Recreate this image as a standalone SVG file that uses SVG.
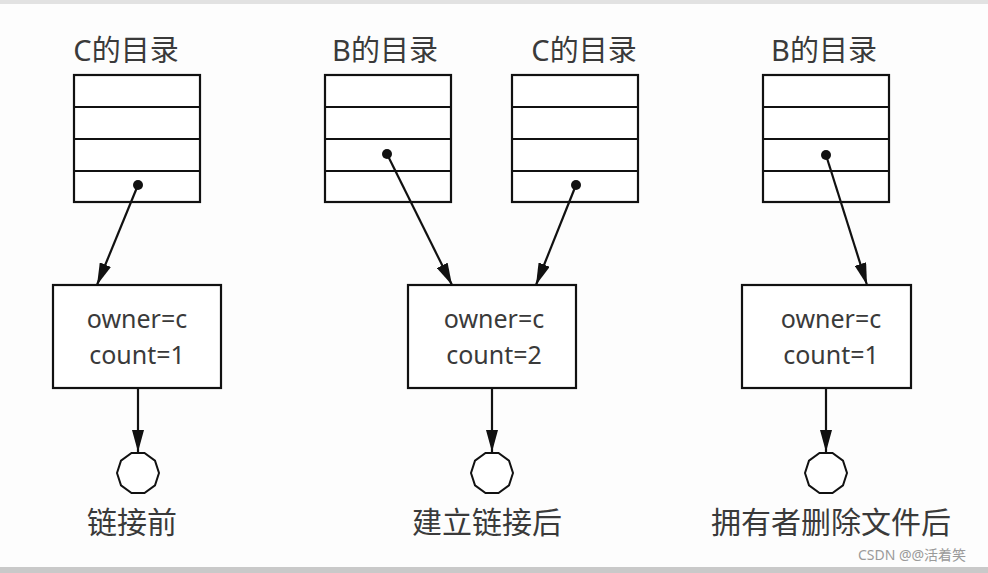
<svg xmlns="http://www.w3.org/2000/svg" width="988" height="573" viewBox="0 0 988 573">
<defs>
<style>
.t{font-family:"Noto Sans","Noto Sans CJK SC",sans-serif;fill:#3a3a3a;text-anchor:middle}
.title{font-size:29px}
.lbl{font-size:30px}
.in{font-size:25px}
.tb{fill:#fff;stroke:#111;stroke-width:2.2}
.ln{stroke:#111;stroke-width:2.2;fill:none}
.cn{stroke:#111;stroke-width:2.2;fill:none;marker-end:url(#ah)}
.oc{fill:#fff;stroke:#111;stroke-width:2}
</style>
<marker id="ah" viewBox="0 0 22 12" refX="22" refY="6" markerWidth="22" markerHeight="12" markerUnits="userSpaceOnUse" orient="auto">
<path d="M0,0 L22,6 L0,12 Z" fill="#111"/>
</marker>
<g id="table">
<rect class="tb" x="0" y="0" width="126" height="127"/>
<line class="ln" x1="0" y1="32" x2="126" y2="32"/>
<line class="ln" x1="0" y1="64" x2="126" y2="64"/>
<line class="ln" x1="0" y1="96" x2="126" y2="96"/>
</g>
<polygon id="oct" class="oc" points="21,0 17,12.3 6.5,20 -6.5,20 -17,12.3 -21,0 -17,-12.3 -6.5,-20 6.5,-20 17,-12.3"/>
</defs>
<rect width="988" height="573" fill="#fdfdfd"/>
<rect width="988" height="4" fill="#e2e2e2"/>
<rect y="567" width="988" height="6" fill="#c9c9c9"/>

<g id="dir1">
<text class="t title" x="126" y="61">C的目录</text>
<use href="#table" x="74" y="75"/>
<circle cx="138" cy="185" r="5" fill="#111"/>
</g>
<g id="dir2">
<text class="t title" x="385" y="61">B的目录</text>
<use href="#table" x="325" y="75"/>
<circle cx="387" cy="154" r="5" fill="#111"/>
</g>
<g id="dir3">
<text class="t title" x="584" y="61">C的目录</text>
<use href="#table" x="512" y="75"/>
<circle cx="576" cy="185" r="5" fill="#111"/>
</g>
<g id="dir4">
<text class="t title" x="824" y="61">B的目录</text>
<use href="#table" x="763" y="75"/>
<circle cx="826" cy="155" r="5" fill="#111"/>
</g>

<g id="inode1">
<rect class="tb" x="53" y="285" width="168" height="103"/>
<text class="t in" x="137" y="328">owner=c</text>
<text class="t in" x="137" y="364">count=1</text>
</g>
<g id="inode2">
<rect class="tb" x="408" y="285" width="168" height="103"/>
<text class="t in" x="494" y="328">owner=c</text>
<text class="t in" x="494" y="364">count=2</text>
</g>
<g id="inode3">
<rect class="tb" x="742" y="285" width="169" height="103"/>
<text class="t in" x="831" y="328">owner=c</text>
<text class="t in" x="831" y="364">count=1</text>
</g>

<g id="file1"><use href="#oct" x="138" y="473"/><text class="t lbl" x="132" y="533">链接前</text></g>
<g id="file2"><use href="#oct" x="492" y="473"/><text class="t lbl" x="487" y="533">建立链接后</text></g>
<g id="file3"><use href="#oct" x="826" y="473"/><text class="t lbl" x="831" y="533">拥有者删除文件后</text></g>

<g id="connectors">
<line class="cn" x1="138" y1="185" x2="97" y2="285"/>
<line class="cn" x1="387" y1="154" x2="452" y2="285"/>
<line class="cn" x1="576" y1="185" x2="536" y2="285"/>
<line class="cn" x1="826" y1="155" x2="867" y2="285"/>
<line class="cn" x1="138" y1="388" x2="138" y2="452"/>
<line class="cn" x1="492" y1="388" x2="492" y2="452"/>
<line class="cn" x1="826" y1="388" x2="826" y2="452"/>
</g>

<text x="912" y="560" font-family="'Noto Sans','Noto Sans CJK SC',sans-serif" font-size="14" fill="#9a9a9a" text-anchor="middle">CSDN @@活着笑</text>
</svg>
